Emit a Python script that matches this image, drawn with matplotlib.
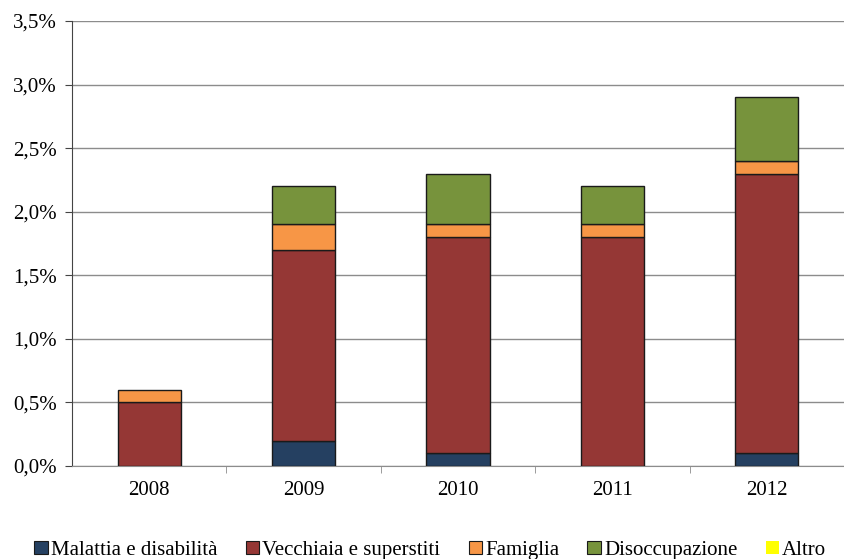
import matplotlib
matplotlib.use("Agg")
import matplotlib.pyplot as plt
from matplotlib.patches import Patch
import numpy as np

plt.rcParams['font.family'] = ['Liberation Serif', 'DejaVu Serif']

years = ["2008", "2009", "2010", "2011", "2012"]
series_names = ["Malattia e disabilità", "Vecchiaia e superstiti", "Famiglia", "Disoccupazione", "Altro"]
malattia = [0.0, 0.2, 0.1, 0.0, 0.1]
vecchiaia = [0.5, 1.5, 1.7, 1.8, 2.2]
famiglia = [0.1, 0.2, 0.1, 0.1, 0.1]
disoccupazione = [0.0, 0.3, 0.4, 0.3, 0.5]
altro = [0.0, 0.0, 0.0, 0.0, 0.0]
colors = ["#254061", "#953735", "#F79646", "#77933C", "#FFFF00"]
yticks = [0.0, 0.5, 1.0, 1.5, 2.0, 2.5, 3.0, 3.5]
ytick_labels = ["0,0%", "0,5%", "1,0%", "1,5%", "2,0%", "2,5%", "3,0%", "3,5%"]

fig = plt.figure(figsize=(8.44, 5.59), dpi=100)
ax = fig.add_axes([72/844, 1 - 466/559, (844-72)/844, (466-21)/559])

x = np.arange(len(years))
bottom = np.zeros(len(years))
data = [malattia, vecchiaia, famiglia, disoccupazione, altro]
for vals, c in zip(data, colors):
    vals = np.array(vals)
    mask = vals > 0
    ax.bar(x[mask], vals[mask], bottom=bottom[mask], width=0.41, color=c,
           edgecolor="#1a1a1a", linewidth=1.0, zorder=3)
    bottom += vals

ax.set_ylim(0, 3.5)
ax.set_xlim(-0.5, 4.48)
ax.set_yticks(yticks)
ax.set_yticklabels(ytick_labels, fontsize=15)
ax.yaxis.grid(True, color="#8c8c8c", linewidth=1.0, zorder=0)
ax.set_axisbelow(True)

ax.set_xticks(x)
ax.set_xticklabels(years, fontsize=15)
ax.set_xticks(np.arange(len(years)) + 0.5, minor=True)
ax.tick_params(axis='x', which='major', length=0, pad=11)
ax.tick_params(axis='x', which='minor', length=5, color="#8c8c8c", direction='out')
ax.tick_params(axis='y', length=5, color="#444444", direction='out', pad=6)

for s in ["top", "right"]:
    ax.spines[s].set_visible(False)
ax.spines["left"].set_color("#444444")
ax.spines["bottom"].set_color("#8c8c8c")

handles = [Patch(facecolor=c, edgecolor=("#1a1a1a" if i < 4 else "none"), linewidth=0.8)
           for i, c in enumerate(colors)]
fig.legend(handles, series_names, loc="lower center", bbox_to_anchor=(0.51, -0.035), ncol=5,
           frameon=False, fontsize=15, handlelength=0.65, handleheight=0.65,
           handletextpad=0.15, columnspacing=1.35)

fig.savefig("out.png", dpi=100)
